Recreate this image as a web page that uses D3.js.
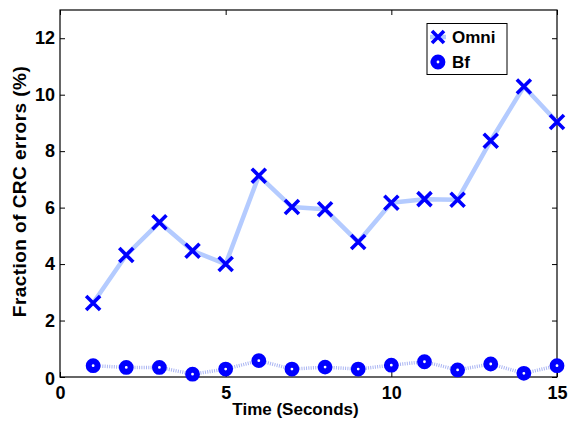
<!DOCTYPE html>
<html>
<head>
<meta charset="utf-8">
<script src="https://cdn.jsdelivr.net/npm/d3@7"></script>
<style>
  html, body { margin: 0; padding: 0; background: #fff; }
  svg text { font-family: "Liberation Sans", Arial, Helvetica, sans-serif; font-weight: bold; }
</style>
</head>
<body>
<svg id="chart" width="569" height="424"></svg>
<script>
const times = [1, 2, 3, 4, 5, 6, 7, 8, 9, 10, 11, 12, 13, 14, 15];
const omni = [2.62, 4.32, 5.48, 4.47, 4.0, 7.13, 6.02, 5.94, 4.78, 6.17, 6.30, 6.28, 8.37, 10.29, 9.03];
const bf = [0.40, 0.34, 0.34, 0.10, 0.28, 0.58, 0.28, 0.35, 0.28, 0.42, 0.54, 0.25, 0.46, 0.13, 0.40];
const xTicks = [0, 5, 10, 15];
const yTicks = [0, 2, 4, 6, 8, 10, 12];
const seriesNames = ["Omni", "Bf"];

(function () {
const svg = d3.select("#chart");
const mL = 60, mR = 557, mT = 10, mB = 377;
const x = d3.scaleLinear().domain([0, 15]).range([mL, mR]);
const y = d3.scaleLinear().domain([0, 13]).range([mB, mT]);

const markColor = "#0000ff";
const lineColor = "#b4cbff";
const dotLineColor = "#a9b4f2";

svg.append("rect").attr("x", mL).attr("y", mT).attr("width", mR - mL).attr("height", mB - mT)
  .attr("fill", "none").attr("stroke", "#000").attr("stroke-width", 1.2);

const tickLen = 5;
const xAxis = svg.append("g").attr("transform", `translate(0,${mB})`)
  .call(d3.axisBottom(x).tickValues(xTicks).tickSizeInner(-tickLen).tickSizeOuter(0).tickPadding(8));
const yAxis = svg.append("g").attr("transform", `translate(${mL},0)`)
  .call(d3.axisLeft(y).tickValues(yTicks).tickSizeInner(-tickLen).tickSizeOuter(0).tickPadding(5));
svg.append("g").attr("transform", `translate(0,${mT})`)
  .call(d3.axisTop(x).tickValues(xTicks).tickSizeInner(-tickLen).tickSizeOuter(0).tickFormat(""));
svg.append("g").attr("transform", `translate(${mR},0)`)
  .call(d3.axisRight(y).tickValues(yTicks).tickSizeInner(-tickLen).tickSizeOuter(0).tickFormat(""));

svg.selectAll(".domain").remove();
svg.selectAll(".tick line").attr("stroke", "#000").attr("stroke-width", 1);
xAxis.selectAll("text").attr("font-size", 18).attr("fill", "#000").attr("dy", "0.77em");
yAxis.selectAll("text").attr("font-size", 18).attr("fill", "#000");
yAxis.selectAll(".tick").filter(d => d === 0).select("text").attr("dy", "0.39em");

const line = d3.line().x((d, i) => x(times[i])).y(d => y(d));
svg.append("path").datum(omni).attr("d", line).attr("fill", "none")
  .attr("stroke", lineColor).attr("stroke-width", 4.5).attr("stroke-linejoin", "round");
svg.append("path").datum(bf).attr("d", line).attr("fill", "none")
  .attr("stroke", dotLineColor).attr("stroke-width", 3.5).attr("stroke-dasharray", "1,1.3");

function drawX(g, cx, cy, s) {
  g.append("path").attr("d", `M${cx - s},${cy - s}L${cx + s},${cy + s}M${cx - s},${cy + s}L${cx + s},${cy - s}`)
    .attr("stroke", markColor).attr("stroke-width", 3.6).attr("fill", "none");
}
function drawO(g, cx, cy) {
  g.append("circle").attr("cx", cx).attr("cy", cy).attr("r", 4.4)
    .attr("fill", "#fff").attr("stroke", markColor).attr("stroke-width", 6);
}
const mg = svg.append("g");
omni.forEach((v, i) => drawX(mg, x(times[i]), y(v), 7));
bf.forEach((v, i) => drawO(mg, x(times[i]), y(v)));

svg.append("text").attr("x", (mL + mR) / 2 - 13).attr("y", 415).attr("text-anchor", "middle")
  .attr("font-size", 17).text("Time (Seconds)");
svg.append("text").attr("transform", `translate(26,191.5) rotate(-90)`)
  .attr("text-anchor", "middle").attr("font-size", 19).attr("letter-spacing", 0.45)
  .text("Fraction of CRC errors (%)");

const lg = svg.append("g");
lg.append("rect").attr("x", 427).attr("y", 23.5).attr("width", 80).attr("height", 51)
  .attr("fill", "#fff").attr("stroke", "#000").attr("stroke-width", 1);
lg.append("line").attr("x1", 430).attr("x2", 446).attr("y1", 37).attr("y2", 37)
  .attr("stroke", lineColor).attr("stroke-width", 4.5);
drawX(lg, 438, 37, 6);
lg.append("line").attr("x1", 430).attr("x2", 446).attr("y1", 62).attr("y2", 62)
  .attr("stroke", dotLineColor).attr("stroke-width", 3.5).attr("stroke-dasharray", "1,1.3");
drawO(lg, 438, 62);
lg.selectAll(".lt").data(seriesNames).enter().append("text")
  .attr("x", 452).attr("y", (d, i) => 43 + i * 25).attr("font-size", 17).text(d => d);
})();
</script>
</body>
</html>
